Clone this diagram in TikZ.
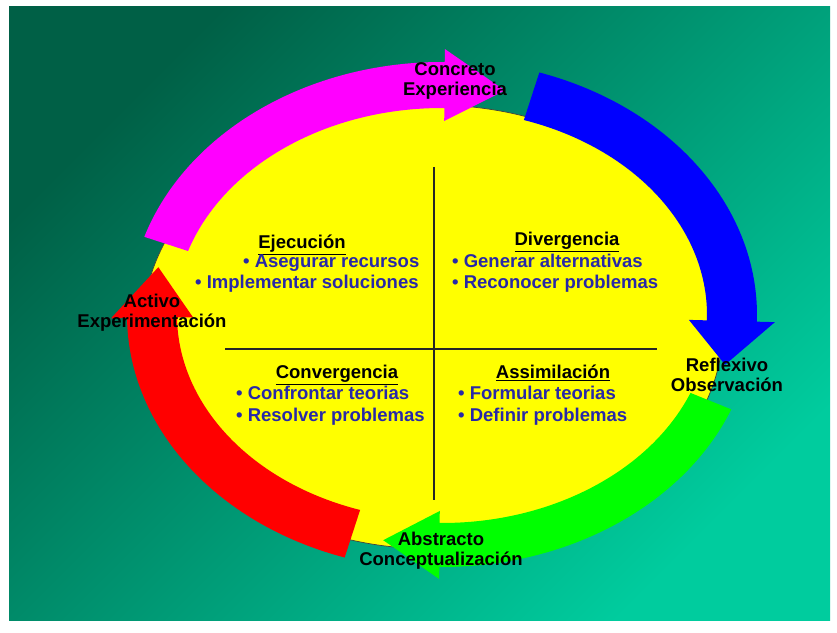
\documentclass[tikz,border=0pt]{standalone}
\usepackage{fontspec}
\setmainfont{Liberation Sans}
\definecolor{bgdark}{RGB}{0,96,70}
\definecolor{bglight}{RGB}{0,204,158}
\definecolor{itemblue}{RGB}{40,40,168}
\definecolor{discyellow}{RGB}{255,255,0}
\definecolor{cmagenta}{RGB}{255,0,255}
\definecolor{cblue}{RGB}{0,0,255}
\definecolor{cgreen}{RGB}{0,255,0}
\definecolor{cred}{RGB}{255,0,0}

% centre line of the cycle band
\def\bcx{442}
\def\bcy{317}
\def\brx{290}
\def\bry{230}

% #1 colour, #2 tail angle, #3 head base angle, #4 tip angle,
% #5 half band width, #6 half head width
\newcommand\cyclearrow[6]{%
  \fill[#1] ({\bcx+(\brx+#5)*cos(#2)},{\bcy+(\bry+#5)*sin(#2)})
    arc[start angle=#2, end angle=#3, x radius=\brx+#5, y radius=\bry+#5]
    -- ({\bcx+(\brx+#6)*cos(#3)},{\bcy+(\bry+#6)*sin(#3)})
    -- ({\bcx+\brx*cos(#4)},{\bcy+\bry*sin(#4)})
    -- ({\bcx+(\brx-#6)*cos(#3)},{\bcy+(\bry-#6)*sin(#3)})
    -- ({\bcx+(\brx-#5)*cos(#3)},{\bcy+(\bry-#5)*sin(#3)})
    arc[start angle=#3, end angle=#2, x radius=\brx-#5, y radius=\bry-#5]
    -- cycle;}

\begin{document}
\begin{tikzpicture}[x=1pt,y=1pt,
  txt/.style={font=\fontsize{18.5}{20}\selectfont\bfseries, inner sep=0pt},
  outer/.style={txt, align=center, text=black},
  heading/.style={txt, anchor=base, text=black},
  item/.style={txt, anchor=base west, text=itemblue},
  divider/.style={line width=1.5pt, draw=black!85}]
\fill[white] (0,0) rectangle (837,632);
\useasboundingbox (0,0) rectangle (837,632);
\shade[top color=bgdark, bottom color=bglight, shading angle=45] (9,12) rectangle (830,625);

% yellow disc
\filldraw[fill=discyellow, draw=black!75, line width=0.7pt] (433,305) ellipse [x radius=290, y radius=222];

% quadrant dividers
\coordinate (vtop) at (434,465);
\coordinate (vbot) at (434,132);
\coordinate (hleft) at (225,283);
\coordinate (hright) at (657,283);
\draw[divider] (vtop) -- (vbot);
\draw[divider] (hleft) -- (hright);

% the four arrows of the cycle
\cyclearrow{cmagenta}{162}{89.5}{77.5}{23}{36}
\cyclearrow{cblue}{72}{-1.5}{-12.5}{25}{43}
\cyclearrow{cgreen}{-22}{-90.5}{-101.7}{22}{34}
\cyclearrow{cred}{-108}{-179.3}{-192}{25}{41}

% stage labels
\node[outer] (conc) at (455,551) {Concreto\\Experiencia};
\node[outer] (refl) at (727,257) {Reflexivo\\Observación};
\node[outer] (abst) at (441,81) {Abstracto\\Conceptualización};
\node[outer] (acti) at (152,319) {Activo\\Experimentación};

% quadrant contents
\node[heading] (ejec) at (302,383) {\underline{Ejecución}};
\node[item] (ej1) at (243,364) {• Asegurar recursos};
\node[item] (ej2) at (195,343) {• Implementar soluciones};

\node[heading] (dive) at (567,386) {\underline{Divergencia}};
\node[item] (dv1) at (452,364) {• Generar alternativas};
\node[item] (dv2) at (452,343) {• Reconocer problemas};

\node[heading] (conv) at (337,253) {\underline{Convergencia}};
\node[item] (cv1) at (236,233) {• Confrontar teorias};
\node[item] (cv2) at (236,211) {• Resolver problemas};

\node[heading] (asim) at (553,253) {\underline{Assimilación}};
\node[item] (as1) at (458,233) {• Formular teorias};
\node[item] (as2) at (458,211) {• Definir problemas};
\end{tikzpicture}
\end{document}
